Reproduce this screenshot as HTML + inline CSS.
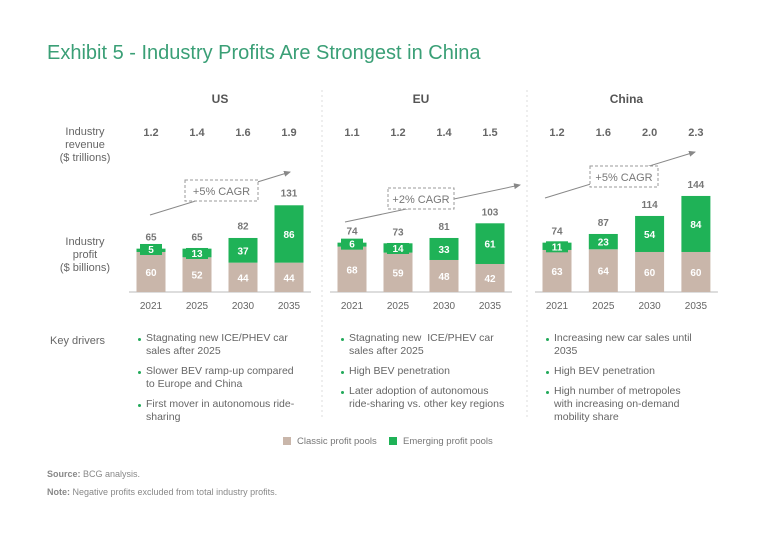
<!DOCTYPE html>
<html><head><meta charset="utf-8"><style>
body{margin:0;background:#fff;font-family:"Liberation Sans",sans-serif;}
#root{position:relative;width:768px;height:543px;overflow:hidden;background:#fff;color:#666;}
.a{position:absolute;white-space:nowrap;}
.t{font-size:10px;color:#666;line-height:13px}
.dr{font-size:10.5px;color:#666;line-height:13px;white-space:normal}
.dr div{position:relative;padding-left:9px;margin-bottom:7px}
.dr div:before{content:"";position:absolute;left:1px;top:6px;width:3px;height:3px;border-radius:50%;background:#21a95a}
</style></head><body>
<div id="root">
<div class="a" style="left:47px;top:42px;font-size:20px;color:#3a9f76">Exhibit 5 - Industry Profits Are Strongest in China</div>
<div class="a t" style="left:50px;top:126px;width:70px;text-align:center;font-size:11px">Industry<br>revenue<br>($ trillions)</div>
<div class="a t" style="left:50px;top:236px;width:70px;text-align:center;font-size:11px">Industry<br>profit<br>($ billions)</div>
<div class="a t" style="left:50px;top:335px;font-size:11px">Key drivers</div>
<div class="a dr" style="left:137px;top:332px;width:158px"><div>Stagnating new ICE/PHEV car sales after 2025</div><div>Slower BEV ramp-up compared to Europe and China</div><div>First mover in autonomous ride-sharing</div></div>
<div class="a dr" style="left:340px;top:332px;width:170px"><div>Stagnating new &nbsp;ICE/PHEV car sales after 2025</div><div>High BEV penetration</div><div>Later adoption of autonomous ride-sharing vs. other key regions</div></div>
<div class="a dr" style="left:545px;top:332px;width:150px"><div>Increasing new car sales until 2035</div><div>High BEV penetration</div><div>High number of metropoles with increasing on-demand mobility share</div></div>
<div class="a" style="left:283px;top:436px;font-size:9.5px;color:#777"><span style="display:inline-block;width:8px;height:8px;background:#c9b6aa;margin-right:6px;vertical-align:-1px"></span>Classic profit pools</div>
<div class="a" style="left:389px;top:436px;font-size:9.5px;color:#777"><span style="display:inline-block;width:8px;height:8px;background:#1fb257;margin-right:6px;vertical-align:-1px"></span>Emerging profit pools</div>
<div class="a" style="left:47px;top:469px;font-size:9px;color:#888"><b>Source:</b> BCG analysis.</div>
<div class="a" style="left:47px;top:487px;font-size:9px;color:#888"><b>Note:</b> Negative profits excluded from total industry profits.</div>
<svg id="chart" width="768" height="543" style="position:absolute;left:0;top:0" font-family="Liberation Sans, sans-serif">
<defs><marker id="ah" markerWidth="8" markerHeight="8" refX="6" refY="3" orient="auto"><path d="M0,0 L7,3 L0,6z" fill="#888"/></marker></defs>
</svg>
<script>
const regions=["US","EU","China"];
const years=["2021","2025","2030","2035"];
const revenue=[["1.2","1.4","1.6","1.9"],["1.1","1.2","1.4","1.5"],["1.2","1.6","2.0","2.3"]];
const classic=[[60,52,44,44],[68,59,48,42],[63,64,60,60]];
const emerging=[[5,13,37,86],[6,14,33,61],[11,23,54,84]];
const totals=[[65,65,82,131],[74,73,81,103],[74,87,114,144]];
const cagr=["+5% CAGR","+2% CAGR","+5% CAGR"];
const svg=document.getElementById('chart');const NS="http://www.w3.org/2000/svg";
function mk(t,a,p){const e=document.createElementNS(NS,t);for(const k in a)e.setAttribute(k,a[k]);(p||svg).appendChild(e);return e;}
const base=292,k=0.667,bw=29;
const x0=[151,352,557],step=[46,46,46.3];
function xb(r,i){return x0[r]+step[r]*i;}
function y(v){return base-v*k;}
const cagrBox=[[185,180,73,21],[388,188,66,21],[590,166,68,21]];
const arrows=[[150,215,290,172],[345,222,520,185],[545,198,695,152]];
for(let r=0;r<3;r++){
  const cx=(xb(r,0)+xb(r,3))/2;
  const h=mk('text',{x:cx,y:103,'text-anchor':'middle','font-size':12,'font-weight':'bold',fill:'#555'});h.textContent=regions[r];
  
  const ar=arrows[r];
  const l=mk('line',{x1:ar[0],y1:ar[1],x2:ar[2],y2:ar[3],stroke:'#888','stroke-width':1,'marker-end':'url(#ah)'});
  
  const b=cagrBox[r];
  const bx=mk('rect',{x:b[0],y:b[1],width:b[2],height:b[3],fill:'#fff',stroke:'#999','stroke-dasharray':'3,2'});
  
  const ct=mk('text',{x:b[0]+b[2]/2,y:b[1]+15,'text-anchor':'middle','font-size':11,fill:'#777'});ct.textContent=cagr[r];
  
  const bl=mk('line',{x1:xb(r,0)-22,y1:base,x2:xb(r,3)+22,y2:base,stroke:'#bbb'});
  
  for(let i=0;i<4;i++){
    const x=xb(r,i);
    const rv=mk('text',{x:x,y:136,'text-anchor':'middle','font-size':11,'font-weight':'bold',fill:'#666'});rv.textContent=revenue[r][i];
    
    const c=mk('rect',{x:x-bw/2,y:y(classic[r][i]),width:bw,height:classic[r][i]*k,fill:'#c9b6aa'});
    
    const e=mk('rect',{x:x-bw/2,y:y(classic[r][i]+emerging[r][i]),width:bw,height:emerging[r][i]*k,fill:'#1fb257'});
    
    const cl=mk('text',{x:x,y:y(classic[r][i]/2)+4,'text-anchor':'middle','font-size':10,'font-weight':'bold',fill:'#fff'});cl.textContent=classic[r][i];
    
    const em=emerging[r][i];
    const ey=em<10?y(classic[r][i])-3+4:y(classic[r][i]+em/2)+4;
    if(em<16){const pad=mk('rect',{x:x-11,y:ey-9,width:22,height:11,fill:'#1fb257'});}
    const et=mk('text',{x:x,y:ey,'text-anchor':'middle','font-size':10,'font-weight':'bold',fill:'#fff'});et.textContent=em;
    
    const tt=mk('text',{x:x,y:y(totals[r][i])-8,'text-anchor':'middle','font-size':10,'font-weight':'bold',fill:'#777'});tt.textContent=totals[r][i];
    
    const yl=mk('text',{x:x,y:309,'text-anchor':'middle','font-size':10,fill:'#666'});yl.textContent=years[i];
    
  }
}
[322,527].forEach(function(sx){
  const s=mk('line',{x1:sx,y1:90,x2:sx,y2:418,stroke:'#ddd','stroke-dasharray':'2,3'});
  
  
});
</script>
</div></body></html>
